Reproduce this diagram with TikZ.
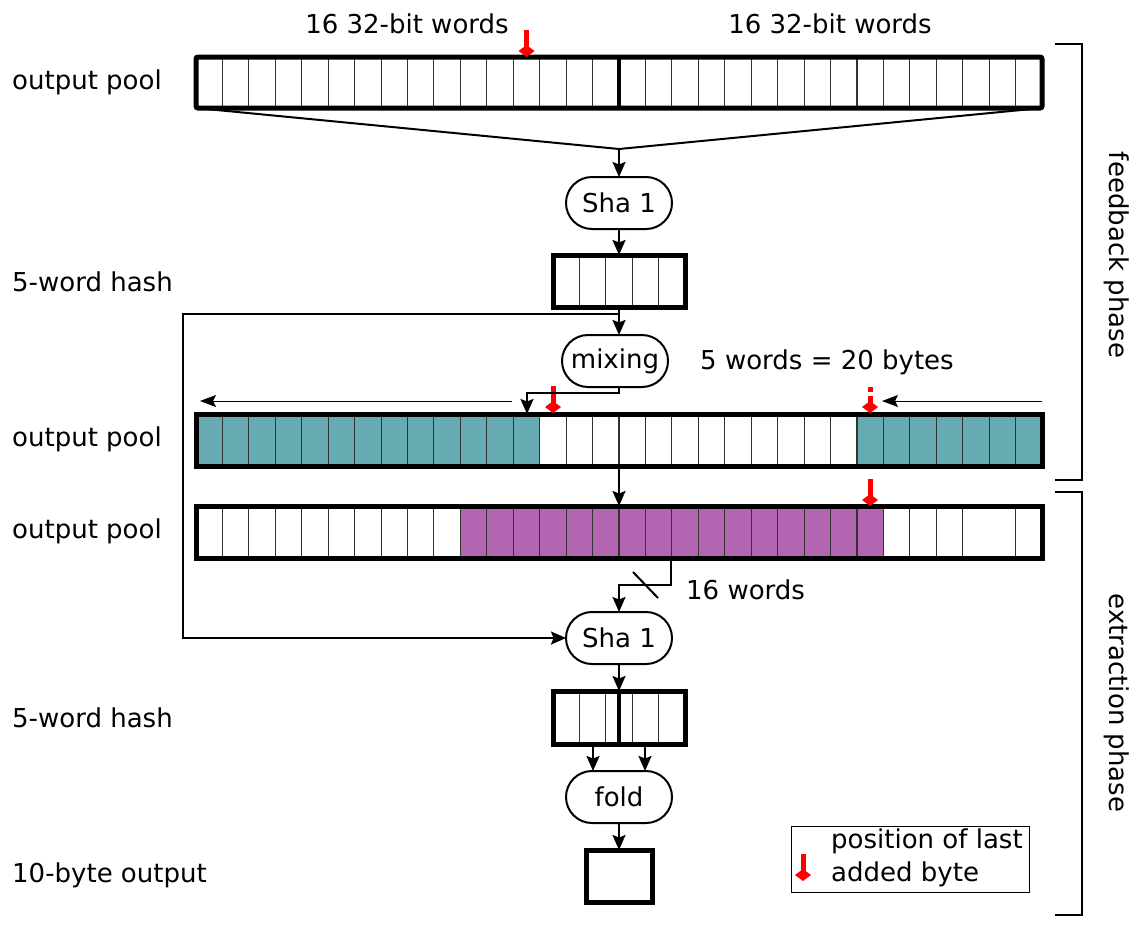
\documentclass[tikz,border=0pt]{standalone}
\usepackage{fontspec}
\setmainfont{DejaVu Sans}
\usetikzlibrary{arrows.meta,calc}
\definecolor{tealc}{HTML}{66ABB1}
\definecolor{purpc}{HTML}{B266B2}
\newcommand\redmarker[2]{%
  \fill[red] ({#1-2.5},{#2-27}) rectangle ({#1+2.5},{#2-9});
  \fill[red] ({#1-8},{#2-6}) -- ({#1},{#2-12}) -- ({#1+8},{#2-6}) -- ({#1},{#2}) -- cycle;}
\newcommand\redmarkerdash[2]{%
  \fill[red] ({#1-2.5},{#2-26}) rectangle ({#1+2.5},{#2-21});
  \fill[red] ({#1-2.5},{#2-17}) rectangle ({#1+2.5},{#2-9});
  \fill[red] ({#1-8},{#2-6}) -- ({#1},{#2-12}) -- ({#1+8},{#2-6}) -- ({#1},{#2}) -- cycle;}
\tikzset{
  txt/.style={font=\fontsize{26}{33}\selectfont, inner sep=0pt},
  pool/.style={draw, line width=5pt, minimum width=846pt, minimum height=52pt, inner sep=0pt, outer sep=0pt},
  hashbox/.style={draw, line width=5pt, minimum width=132pt, minimum height=52pt, inner sep=0pt, outer sep=0pt},
  rnd/.style={draw, line width=2pt, rounded corners=26pt, minimum width=106pt, minimum height=52pt, inner sep=0pt, outer sep=0pt, font=\fontsize{26}{33}\selectfont},
  cell/.style={line width=1.1pt, black!80},
  conn/.style={line width=2pt},
  arr/.style={line width=2pt, -{Stealth[length=15pt,width=13pt,inset=2.5pt]}},
  thinarr/.style={line width=1pt, -{Stealth[length=16pt,width=12pt,inset=3pt]}},
  brk/.style={line width=2pt},
}
\begin{document}
\begin{tikzpicture}[x=1pt,y=-1pt]
\useasboundingbox (0,0) rectangle (1145,926);
% fills
\fill[tealc] (196,414) rectangle (540.4,466);
\fill[tealc] (857.1,414) rectangle (1042,466);
\fill[purpc] (460.4,506) rectangle (883.4,558);
% cell dividers
\foreach \i in {1,...,15,17,18,...,31} \draw[cell] ({196+\i*26.4375},57) -- ++(0,51);
\draw[line width=4pt] (619,57) -- (619,108);
\foreach \i in {1,...,31} \draw[cell] ({196+\i*26.4375},414) -- ++(0,52);
\foreach \i in {1,...,29,31} \draw[cell] ({196+\i*26.4375},506) -- ++(0,52);
\foreach \i in {1,...,4} \draw[cell] ({553+\i*26.4},255) -- ++(0,52);
\foreach \xx in {579.4,605.8,632.2,658.6} \draw[cell] (\xx,691) -- ++(0,53);
\draw[line width=4pt] (619,691) -- (619,744);
% pools and boxes
\node[pool, rounded corners=2pt, minimum height=51pt] (p1) at (619,82.5) {};
\node[pool] (p2) at (619,440) {};
\node[pool] (p3) at (619,532) {};
\node[hashbox] (h1) at (619,281) {};
\node[hashbox, minimum height=53pt] (h2) at (619,717.5) {};
\node[draw, line width=5pt, minimum width=66pt, minimum height=52pt, inner sep=0pt, outer sep=0pt] (o) at (619,876) {};
% rounded process nodes
\node[rnd] (s1) at (619,203) {Sha 1};
\node[rnd] (m) at (615,361) {mixing};
\node[rnd] (s2) at (619,638) {Sha 1};
\node[rnd] (f) at (619,797) {fold};
% labels
\node[txt, anchor=west] (l1) at (12,82) {output pool};
\node[txt, anchor=west] (l2) at (12,282) {5-word hash};
\node[txt, anchor=west] (l3) at (12,439) {output pool};
\node[txt, anchor=west] (l4) at (12,531) {output pool};
\node[txt, anchor=west] (l5) at (12,718) {5-word hash};
\node[txt, anchor=west] (l6) at (12,875) {10-byte output};
\node[txt] (w1) at (407,24) {16 32-bit words};
\node[txt] (w2) at (830,24) {16 32-bit words};
\node[txt] (w3) at (827,362) {5 words = 20 bytes};
\node[txt, anchor=west] (w4) at (686,590) {16 words};
\node[txt, rotate=-90] (ph1) at (1117,255) {feedback phase};
\node[txt, rotate=-90] (ph2) at (1117,703) {extraction phase};
% legend
\node[draw, line width=1pt, minimum width=238pt, minimum height=66pt, inner sep=0pt] (leg) at (910,859) {};
\node[txt, anchor=west, align=left] (legt) at (831,858) {position of last\\added byte};
% red markers
\redmarker{526.5}{57}
\redmarker{553}{413}
\redmarkerdash{870}{413}
\redmarker{870}{506}
\redmarker{803}{881}
% connectors
\coordinate (conv) at (619,149);
\draw[conn] (p1.south west) -- (conv) -- (p1.south east);
\draw[arr] (conv) -- (s1.north);
\draw[arr] (s1.south) -- (h1.north);
\draw[arr] (h1.south) -- (h1.south |- m.north);
\coordinate (fb) at (619,314);
\draw[arr] (fb) -- (183,314) |- (s2.west);
\coordinate (mout) at (619,387);
\coordinate (pin) at (527,414);
\draw[arr] (mout) -- (619,393) -| (pin);
\coordinate (la1) at (512,401);
\coordinate (la2) at (200,401);
\coordinate (ra1) at (1042,401);
\coordinate (ra2) at (882,401);
\draw[thinarr] (la1) -- (la2);
\draw[thinarr] (ra1) -- (ra2);
\draw[arr] (p2.south) -- (p3.north);
\coordinate (p3out) at (671,558);
\draw[arr] (p3out) -- (671,585) -| (s2.north);
\draw[conn] (633,572) -- (658,598);
\draw[arr] (s2.south) -- (h2.north);
\draw[arr] (593,744) -- (593,771);
\draw[arr] (645,744) -- (645,771);
\draw[arr] (f.south) -- (o.north);
% brackets
\draw[brk] (1055,44) -- (1082,44) -- (1082,480) -- (1055,480);
\draw[brk] (1055,492) -- (1082,492) -- (1082,915) -- (1055,915);
\end{tikzpicture}
\end{document}
